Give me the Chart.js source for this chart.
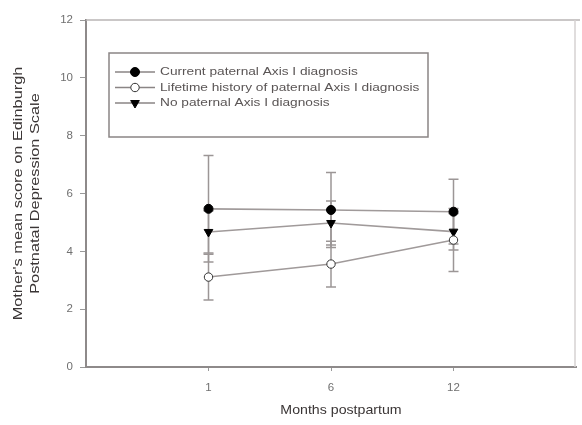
<!DOCTYPE html>
<html><head><meta charset="utf-8">
<script src="https://cdn.jsdelivr.net/npm/chart.js@4.4.0/dist/chart.umd.min.js"></script>
<style>html,body{margin:0;padding:0;background:#fff}#wrap{width:582px;height:425px;position:relative}</style>
</head><body><div id="wrap"><canvas id="c"></canvas></div>
<script>
const months = ['1', '6', '12'];
const seriesLabels = ['Current paternal Axis I diagnosis', 'Lifetime history of paternal Axis I diagnosis', 'No paternal Axis I diagnosis'];
const currentMeans = [5.47, 5.43, 5.37];
const currentErrors = [1.84, 1.30, 1.12];
const lifetimeMeans = [3.11, 3.56, 4.39];
const lifetimeErrors = [0.79, 0.79, 1.09];
const noneMeans = [4.67, 4.98, 4.68];
const noneErrors = [0.73, 0.76, 0.63];
const yTicks = [0, 2, 4, 6, 8, 10, 12];
const xTitle = 'Months postpartum';
const yTitle = ["Mother's mean score on Edinburgh", 'Postnatal Depression Scale'];

const FONT = "'Liberation Sans', Arial, sans-serif";
const toPoints = arr => arr.map((v, i) => ({ x: i + 1, y: v }));

const markerStyles = [
  { pointStyle: 'circle', radius: 4.5, rotation: 0, bg: '#000', border: '#000' },
  { pointStyle: 'circle', radius: 4.2, rotation: 0, bg: '#fff', border: '#333' },
  { pointStyle: 'triangle', radius: 5, rotation: 180, bg: '#000', border: '#000' }
];

function makeDataset(i, means, errs) {
  const m = markerStyles[i];
  return {
    label: seriesLabels[i],
    data: toPoints(means),
    errors: errs,
    borderColor: '#a09a9a',
    borderWidth: 1.6,
    pointStyle: m.pointStyle,
    pointRadius: m.radius,
    pointRotation: m.rotation,
    pointBackgroundColor: m.bg,
    pointBorderColor: m.border,
    pointBorderWidth: 1,
    tension: 0,
    fill: false
  };
}

function stretchedText(ctx, text, x, y, sx, rot) {
  ctx.save();
  ctx.translate(x, y);
  if (rot) ctx.rotate(rot);
  ctx.scale(sx, 1);
  ctx.fillText(text, 0, 0);
  ctx.restore();
}

const errorBars = {
  id: 'errorBars',
  beforeDatasetsDraw(chart) {
    const { ctx, scales: { x, y } } = chart;
    ctx.save();
    ctx.strokeStyle = '#9c9696';
    ctx.lineWidth = 1.5;
    chart.data.datasets.forEach(ds => {
      ds.errors.forEach((e, i) => {
        const p = ds.data[i];
        const px = x.getPixelForValue(p.x);
        const top = y.getPixelForValue(p.y + e);
        const bot = y.getPixelForValue(p.y - e);
        ctx.beginPath();
        ctx.moveTo(px, top); ctx.lineTo(px, bot);
        ctx.moveTo(px - 5, top); ctx.lineTo(px + 5, top);
        ctx.moveTo(px - 5, bot); ctx.lineTo(px + 5, bot);
        ctx.stroke();
      });
    });
    ctx.restore();
  }
};

const frameAndLegend = {
  id: 'frameAndLegend',
  afterDraw(chart) {
    const { ctx, chartArea: a } = chart;
    ctx.save();
    // frame top/right
    ctx.strokeStyle = '#b8b4b4';
    ctx.lineWidth = 1.5;
    ctx.beginPath();
    ctx.moveTo(a.left, a.top); ctx.lineTo(a.right + 4, a.top);
    ctx.stroke();
    ctx.strokeStyle = '#d6d2d2';
    ctx.beginPath();
    ctx.moveTo(a.right - 1, a.top); ctx.lineTo(a.right - 1, a.bottom);
    ctx.stroke();
    // legend box
    const bx = a.left + 23, by = a.top + 33, bw = 319, bh = 84;
    ctx.strokeStyle = '#8a8585';
    ctx.lineWidth = 1.5;
    ctx.strokeRect(bx, by, bw, bh);
    ctx.font = '11.5px ' + FONT;
    ctx.textBaseline = 'middle';
    chart.data.datasets.forEach((ds, i) => {
      const ly = by + 19 + i * 15.5;
      ctx.strokeStyle = '#8a8585';
      ctx.lineWidth = 1.5;
      ctx.beginPath(); ctx.moveTo(bx + 6, ly); ctx.lineTo(bx + 46, ly); ctx.stroke();
      const m = markerStyles[i];
      ctx.fillStyle = m.bg; ctx.strokeStyle = m.border; ctx.lineWidth = 1;
      Chart.helpers.drawPoint(ctx, {
        pointStyle: ds.pointStyle, radius: ds.pointRadius, rotation: ds.pointRotation, borderWidth: 1
      }, bx + 26, ly);
      ctx.fillStyle = '#5a5555';
      stretchedText(ctx, ds.label, bx + 51, ly, 1.19, 0);
    });
    // x title
    ctx.fillStyle = '#3a3535';
    ctx.font = '13px ' + FONT;
    ctx.textAlign = 'center';
    stretchedText(ctx, xTitle, (a.left + a.right) / 2 + 10, 410, 1.09, 0);
    // y title
    ctx.font = '13.5px ' + FONT;
    const cy = (a.top + a.bottom) / 2;
    stretchedText(ctx, yTitle[0], 18.5, cy, 1.21, -Math.PI / 2);
    stretchedText(ctx, yTitle[1], 35.5, cy, 1.21, -Math.PI / 2);
    ctx.restore();
  }
};

new Chart(document.getElementById('c'), {
  type: 'line',
  data: {
    datasets: [
      makeDataset(0, currentMeans, currentErrors),
      makeDataset(1, lifetimeMeans, lifetimeErrors),
      makeDataset(2, noneMeans, noneErrors)
    ]
  },
  options: {
    responsive: true,
    maintainAspectRatio: false,
    animation: false,
    layout: { padding: { top: 20, right: 5, left: 0, bottom: 0 } },
    plugins: { legend: { display: false }, tooltip: { enabled: false } },
    scales: {
      x: {
        type: 'linear', min: 0, max: 4,
        afterBuildTicks: s => { s.ticks = months.map((m, i) => ({ value: i + 1 })); },
        afterFit: s => { s.height = 58; },
        ticks: {
          callback: (v) => months[v - 1] ?? '',
          color: '#707070', font: { family: FONT, size: 11.5 }, padding: 10, maxRotation: 0
        },
        grid: { drawOnChartArea: false, tickLength: 4, color: '#999', lineWidth: 1 },
        border: { color: '#8e8a8a', width: 2 }
      },
      y: {
        min: 0, max: 12,
        afterBuildTicks: s => { s.ticks = yTicks.map(v => ({ value: v })); },
        afterFit: s => { s.width = 86; },
        ticks: { color: '#707070', font: { family: FONT, size: 11.5 }, padding: 7 },
        grid: { drawOnChartArea: false, tickLength: 6, color: '#999', lineWidth: 1 },
        border: { color: '#8e8a8a', width: 2 }
      }
    }
  },
  plugins: [errorBars, frameAndLegend]
});
</script>
</body></html>
